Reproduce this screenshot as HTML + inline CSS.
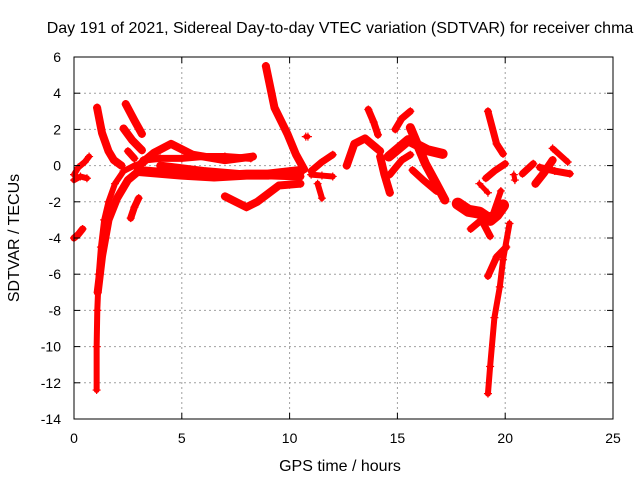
<!DOCTYPE html>
<html><head><meta charset="utf-8"><style>
body{margin:0;background:#fff}
svg{display:block;font-family:"Liberation Sans",sans-serif}
</style></head><body>
<svg id="chart" width="640" height="480">
<rect width="640" height="480" fill="#fff"/>
<text x="340" y="33" font-size="16" text-anchor="middle">Day 191 of 2021, Sidereal Day-to-day VTEC variation (SDTVAR) for receiver chma</text>
<text x="0" y="0" font-size="16" text-anchor="middle" transform="translate(19,238) rotate(-90)">SDTVAR / TECUs</text>
<text x="340" y="471" font-size="16" text-anchor="middle">GPS time / hours</text>
<g id="grid"></g><g id="marks"></g><g id="axes"></g>
</svg>
<script>
const xTicks=[0,5,10,15,20,25];
const yTicks=[6,4,2,0,-2,-4,-6,-8,-10,-12,-14];
const tracks=[
[[0,-0.5],[0.2,-0.1],[0.5,0.2],[0.7,0.5]],
[[0,-0.8],[0.3,-0.6],[0.6,-0.7]],
[[0,-4],[0.2,-3.8],[0.4,-3.5]],
[[1.05,-12.4],[1.05,-10],[1.08,-8],[1.15,-6],[1.25,-4.5],[1.4,-3],[1.6,-2],[1.9,-1],[2.3,-0.3],[2.8,0],[3.3,0.2]],
[[1.1,-7],[1.3,-5],[1.6,-3],[2,-1.8],[2.5,-0.8],[3,-0.3]],
[[1.07,3.2],[1.3,1.8],[1.6,0.8],[1.85,0.3],[2.2,0]],
[[2.4,3.4],[2.8,2.5],[3.15,1.75]],
[[2.3,2.05],[2.7,1.4],[3.15,0.85]],
[[2.5,0.8],[2.8,0.4]],
[[2.63,-2.9],[2.8,-2.3],[3.0,-1.8]],
[[3,0],[3.7,0.7],[4.5,1.2],[5.5,0.6],[7,0.3],[8.3,0.5]],
[[3.2,0.3],[4,0.4],[5,0.4],[6,0.5],[7,0.5],[8.2,0.4]],
[[3,-0.3],[5,-0.5],[6.5,-0.6],[8,-0.5],[9,-0.5],[10.5,-0.3]],
[[4,0],[6,-0.3],[8,-0.5],[10.5,-0.6]],
[[7,-1.7],[8,-2.3],[8.5,-2],[9.5,-1.1],[10.5,-1]],
[[8.9,5.5],[9.3,3.2],[9.9,1.75],[10.3,0.6],[10.67,-0.2]],
[[10.75,1.6],[10.85,1.6]],
[[11,-0.3],[11.5,0.2],[12,0.6]],
[[11,-0.5],[11.5,-0.55],[12,-0.6]],
[[11.3,-1],[11.5,-1.8]],
[[12.65,0],[13,1.2],[13.5,1.5],[14,1.0],[14.2,0.8]],
[[13.65,3.1],[13.9,2.4],[14.1,1.7]],
[[14.2,0.5],[14.4,-0.5],[14.65,-1.5]],
[[14.65,-0.5],[15.2,0.3],[15.6,0.6]],
[[14.9,2],[15.2,2.6],[15.6,3]],
[[14.6,0.5],[15.5,1.4],[16.4,0.85],[17.1,0.65]],
[[15.6,2.1],[16.3,0.1],[16.8,-1],[17.2,-1.9]],
[[15.7,-0.25],[16.2,-0.8],[16.8,-1.4]],
[[17.8,-2.1],[18.3,-2.5],[18.8,-2.6],[19.3,-3],[19.6,-2.7],[19.9,-2.2]],
[[18.4,-3.5],[18.9,-3],[19.3,-3.9]],
[[19.2,3.0],[19.6,1.2],[19.9,0.65]],
[[19.1,-0.7],[19.5,-0.3],[20.0,0.1]],
[[18.8,-1.0],[19.2,-1.5]],
[[19.8,-1.4],[19.45,-2.6]],
[[19.2,-12.6],[19.3,-11.1],[19.5,-8.4],[19.75,-6.7],[19.9,-5.2],[20.2,-3.2]],
[[19.2,-6.1],[19.6,-5.05],[20.05,-4.5]],
[[20.4,-0.5],[20.45,-0.8]],
[[20.8,-0.45],[21.3,0.1]],
[[21.4,-1.0],[21.8,-0.4],[22.2,0.3]],
[[21.6,-0.1],[22.3,-0.3],[23.0,-0.45]],
[[22.2,0.95],[22.9,0.2]]
];
const trackWidths=[6,6,7,6,8,8,8,8,7,7,8,7,10,8,8,8,5,7,6,6,8,7,8,7,7,10,9,7,12,7,7,7,5,6,6,7,5,7,8,7,6];
const X0=74,X1=613,Y0=57,Y1=419;
const xs=v=>X0+(v-0)/25*(X1-X0);
const ys=v=>Y0+(6-v)/20*(Y1-Y0);
const NS='http://www.w3.org/2000/svg';
const grid=document.getElementById('grid'),marks=document.getElementById('marks'),axes=document.getElementById('axes');
function mk(tag,attrs,parent){const e=document.createElementNS(NS,tag);for(const k in attrs)e.setAttribute(k,attrs[k]);parent.appendChild(e);return e;}
xTicks.forEach(t=>{
 const x=xs(t);
 if(t>0&&t<25){const g=mk('line',{x1:x,y1:Y0,x2:x,y2:Y1,stroke:'#a0a0a0','stroke-dasharray':'2,3'},grid);
 
 }
 mk('line',{x1:x,y1:Y1,x2:x,y2:Y1-6,stroke:'#000'},axes);
 mk('line',{x1:x,y1:Y0,x2:x,y2:Y0+6,stroke:'#000'},axes);
 const l=mk('text',{x:x,y:443,'font-size':'14','text-anchor':'middle'},axes);l.textContent=t;
 
 
});
yTicks.forEach(t=>{
 const y=ys(t);
 if(t<6&&t>-14){const g=mk('line',{x1:X0,y1:y,x2:X1,y2:y,stroke:'#a0a0a0','stroke-dasharray':'2,3'},grid);
 
 }
 mk('line',{x1:X0,y1:y,x2:X0+6,y2:y,stroke:'#000'},axes);
 mk('line',{x1:X1,y1:y,x2:X1-6,y2:y,stroke:'#000'},axes);
 const l=mk('text',{x:61,y:y+5,'font-size':'14','text-anchor':'end'},axes);l.textContent=t;
 
 
});
const fr=mk('rect',{x:X0,y:Y0,width:X1-X0,height:Y1-Y0,fill:'none',stroke:'#000'},axes);


tracks.forEach((tr,i)=>{
 const pl=mk('polyline',{points:tr.map(p=>xs(p[0])+','+ys(p[1])).join(' '),fill:'none',stroke:'#f00','stroke-width':trackWidths[i],'stroke-linejoin':'round','stroke-linecap':'round'},marks);
 
 
 tr.forEach(p=>{
  const x=xs(p[0]),y=ys(p[1]);
  const m=mk('path',{d:`M${x-4},${y}H${x+4}M${x},${y-4}V${y+4}`,stroke:'#f00','stroke-width':1.2},marks);
  
  
 });
});
</script>
</body></html>
